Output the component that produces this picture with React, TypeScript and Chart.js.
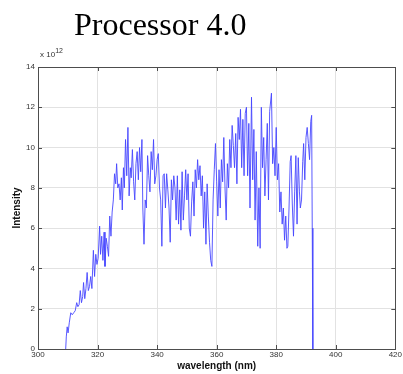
import React, { useEffect, useRef } from "react";
import { Chart, registerables } from "chart.js";

Chart.register(...registerables);

// Emission spectrum: wavelength in nm, intensity in units of 10^12
const wavelengths: number[] = [
  309.3, 309.5, 309.8, 310.1, 310.5, 311.0, 311.5, 312.0, 312.5, 313.0,
  313.4, 313.8, 314.2, 314.6, 315.0, 315.3, 315.7, 316.1, 316.5, 316.9,
  317.3, 317.7, 318.1, 318.6, 319.0, 319.4, 319.8, 320.2, 320.7, 321.0,
  321.4, 321.8, 322.2, 322.5, 322.9, 323.3, 323.7, 324.1, 324.5, 324.9,
  325.3, 325.7, 326.1, 326.4, 326.8, 327.2, 327.6, 328.0, 328.3, 328.7,
  329.0, 329.4, 329.8, 330.2, 330.6, 331.0, 331.3, 331.7, 332.1, 332.5,
  332.9, 333.3, 333.7, 334.1, 334.5, 334.9, 335.2, 335.6, 336.0, 336.4,
  336.8, 337.2, 337.6, 338.0, 338.4, 338.8, 339.2, 339.6, 340.0, 340.4,
  340.8, 341.2, 341.6, 342.0, 342.4, 342.8, 343.2, 343.6, 344.0, 344.4,
  344.8, 345.2, 345.6, 346.0, 346.4, 346.8, 347.2, 347.6, 348.0, 348.4,
  348.8, 349.2, 349.6, 350.0, 350.4, 350.8, 351.2, 351.6, 352.0, 352.4,
  352.8, 353.2, 353.6, 354.0, 354.4, 354.8, 355.2, 355.6, 356.0, 356.4,
  356.8, 357.2, 357.6, 358.0, 358.4, 358.8, 359.2, 359.6, 360.0, 360.4,
  360.8, 361.2, 361.6, 362.0, 362.4, 362.8, 363.2, 363.6, 364.0, 364.4,
  364.8, 365.2, 365.6, 366.0, 366.4, 366.8, 367.2, 367.6, 368.0, 368.4,
  368.8, 369.2, 369.6, 370.0, 370.4, 370.8, 371.2, 371.7, 372.1, 372.5,
  372.9, 373.3, 373.8, 374.2, 374.6, 375.0, 375.4, 375.8, 376.2, 376.6,
  377.0, 377.4, 377.8, 378.4, 378.8, 379.2, 379.6, 380.0, 380.4, 380.8,
  381.2, 381.6, 382.0, 382.4, 382.8, 383.2, 383.6, 383.9, 384.3, 384.7,
  385.0, 385.4, 385.8, 386.2, 386.6, 387.0, 387.4, 387.8, 388.1, 388.5,
  388.9, 389.2, 389.6, 390.0, 390.4, 390.8, 391.2, 391.6, 391.9, 392.1,
  392.3,
];

const intensity: number[] = [
  0.0, 0.6, 1.1, 0.8, 1.3, 1.8, 1.7, 1.8, 1.9, 2.3,
  2.1, 2.2, 2.9, 2.3, 2.6, 3.3, 2.5, 3.0, 3.8, 2.9,
  3.1, 3.6, 3.0, 4.9, 3.6, 4.7, 4.2, 4.5, 6.1, 4.7,
  5.6, 4.4, 5.8, 4.1, 5.5, 5.1, 4.6, 6.6, 5.6, 6.8,
  7.4, 8.7, 8.2, 9.2, 8.0, 8.2, 7.4, 8.5, 6.9, 9.0,
  8.0, 10.4, 8.6, 11.0, 7.6, 9.0, 8.5, 9.9, 8.3, 7.4,
  9.2, 9.8, 8.4, 10.0, 8.8, 10.4, 7.0, 5.2, 7.4, 7.0,
  9.6, 8.6, 7.8, 9.8, 8.9, 10.4, 8.2, 8.6, 9.4, 9.7,
  8.0, 7.4, 5.1, 8.6, 8.7, 7.0, 8.7, 7.9, 7.0, 5.3,
  8.4, 7.4, 8.6, 8.0, 6.4, 8.6, 6.2, 7.9, 5.9, 8.8,
  6.4, 7.6, 8.9, 7.4, 8.7, 6.0, 5.6, 7.3, 8.3, 6.6,
  8.9, 8.0, 9.4, 8.4, 9.1, 7.6, 8.6, 6.0, 7.8, 5.2,
  8.2, 6.6, 5.3, 4.4, 4.1, 7.4, 8.9, 10.2, 8.3, 6.6,
  8.9, 7.0, 9.4, 8.3, 10.5, 8.0, 6.4, 9.2, 8.0, 10.4,
  9.0, 11.1, 10.1, 9.0, 10.7, 8.2, 11.5, 10.4, 11.9, 9.0,
  11.4, 8.6, 11.7, 12.0, 8.6, 11.2, 7.0, 12.5, 8.4, 10.9,
  6.4, 9.8, 5.1, 8.0, 5.0, 12.0, 9.0, 10.5, 7.6, 9.4,
  11.2, 7.4, 11.8, 12.7, 9.2, 10.0, 8.6, 11.0, 8.4, 9.2,
  6.8, 7.8, 6.2, 7.0, 5.4, 6.6, 5.0, 5.1, 7.0, 9.3,
  9.6, 7.2, 5.6, 7.8, 9.6, 6.2, 9.5, 7.8, 7.0, 7.4,
  9.3, 10.2, 8.4, 10.5, 11.0, 10.2, 9.4, 11.3, 11.6, 6.0,
  0.0,
];

// Axis ranges and tick spacing
const xRange: number[] = [300, 420];
const xStep = 20;
const yRange: number[] = [0, 14];
const yStep = 2;

const LINE_COLOR = "#4646ff";
const FRAME_COLOR = "#4d4d4d";
const GRID_COLOR = "#e2e2e2";
const LABEL_FONT = "'Liberation Sans', Arial, Helvetica, sans-serif";

// Box around the plot area with short inward tick marks on every side
const framePlugin = {
  id: "frame",
  afterDatasetsDraw(chart: any) {
    const { ctx, chartArea, scales } = chart;
    const { left, right, top, bottom } = chartArea;
    const len = 4;
    ctx.save();
    ctx.strokeStyle = FRAME_COLOR;
    ctx.lineWidth = 1;
    ctx.beginPath();
    for (const t of scales.x.ticks) {
      const px = Math.round(scales.x.getPixelForValue(t.value)) + 0.5;
      ctx.moveTo(px, bottom);
      ctx.lineTo(px, bottom - len);
      ctx.moveTo(px, top);
      ctx.lineTo(px, top + len);
    }
    for (const t of scales.y.ticks) {
      const py = Math.round(scales.y.getPixelForValue(t.value)) + 0.5;
      ctx.moveTo(left, py);
      ctx.lineTo(left + len, py);
      ctx.moveTo(right, py);
      ctx.lineTo(right - len, py);
    }
    ctx.stroke();
    ctx.strokeRect(
      Math.round(left) + 0.5,
      Math.round(top) + 0.5,
      Math.round(right - left),
      Math.round(bottom - top)
    );
    ctx.restore();
  },
};

export default function App() {
  const canvasRef = useRef<HTMLCanvasElement | null>(null);

  useEffect(() => {
    if (!canvasRef.current) return;
    const points = wavelengths.map((w, i) => ({ x: w, y: intensity[i] }));
    const chart = new Chart(canvasRef.current, {
      type: "line",
      data: {
        datasets: [
          {
            data: points,
            borderColor: LINE_COLOR,
            borderWidth: 0.9,
            pointRadius: 0,
            tension: 0,
            fill: false,
          },
        ],
      },
      options: {
        animation: false,
        responsive: false,
        devicePixelRatio: 1,
        layout: { padding: { top: 67, right: 7, left: 0, bottom: 0 } },
        plugins: {
          legend: { display: false },
          tooltip: { enabled: false },
          title: { display: false },
        },
        scales: {
          x: {
            type: "linear",
            min: xRange[0],
            max: xRange[1],
            afterFit: (scale: any) => {
              scale.height = 25;
            },
            ticks: {
              stepSize: xStep,
              padding: 1,
              color: "#333",
              font: { family: LABEL_FONT, size: 8 },
              maxRotation: 0,
            },
            grid: { color: GRID_COLOR, drawTicks: false },
            border: { display: false },
            title: {
              display: true,
              text: "wavelength (nm)",
              color: "#111",
              font: { family: LABEL_FONT, size: 10, weight: "bold" },
              padding: { top: 0, bottom: 2 },
            },
          },
          y: {
            type: "linear",
            min: yRange[0],
            max: yRange[1],
            afterFit: (scale: any) => {
              scale.width = 38;
            },
            ticks: {
              stepSize: yStep,
              padding: 3,
              color: "#333",
              font: { family: LABEL_FONT, size: 8 },
            },
            grid: { color: GRID_COLOR, drawTicks: false },
            border: { display: false },
            title: {
              display: true,
              text: "Intensity",
              color: "#111",
              font: { family: LABEL_FONT, size: 10, weight: "bold" },
              padding: { top: 11, bottom: 0 },
            },
          },
        },
      },
      plugins: [framePlugin],
    });
    return () => chart.destroy();
  }, []);

  return (
    <div style={{ position: "fixed", left: 0, top: 0, width: 403, height: 374, background: "#fff" }}>
      <div
        style={{
          position: "absolute",
          left: 74,
          top: 6,
          fontFamily: "'Liberation Serif', 'Times New Roman', serif",
          fontSize: 32,
          lineHeight: "normal",
          color: "#000",
          whiteSpace: "nowrap",
        }}
      >
        Processor 4.0
      </div>
      <div
        style={{
          position: "absolute",
          left: 40,
          top: 50,
          fontFamily: LABEL_FONT,
          fontSize: 8,
          lineHeight: "10px",
          color: "#333",
          whiteSpace: "nowrap",
        }}
      >
        x 10
        <sup style={{ fontSize: 7, verticalAlign: "top", position: "relative", top: -4 }}>12</sup>
      </div>
      <canvas ref={canvasRef} width={403} height={374} style={{ display: "block", width: 403, height: 374 }} />
    </div>
  );
}
